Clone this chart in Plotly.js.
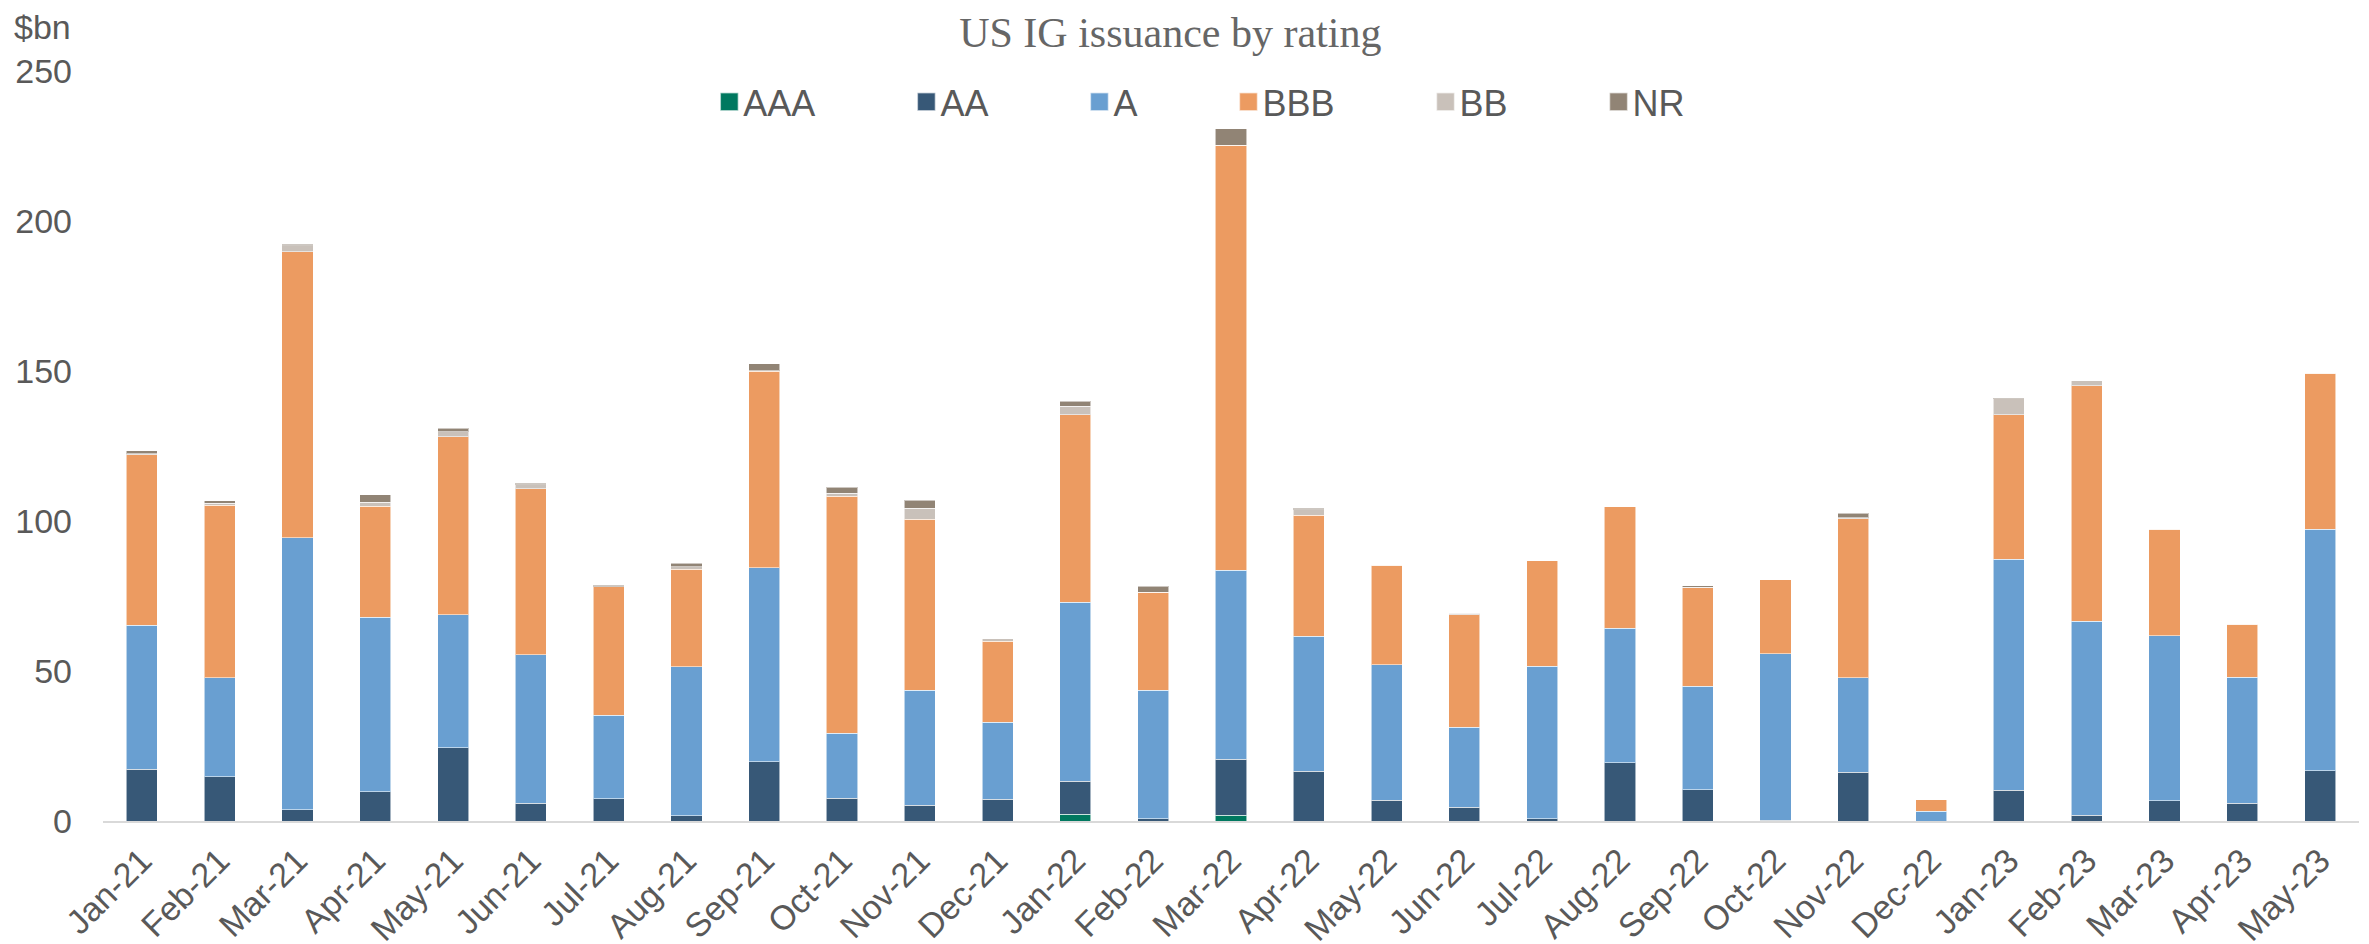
<!DOCTYPE html>
<html>
<head>
<meta charset="utf-8">
<script src="https://cdn.plot.ly/plotly-3.0.1.min.js"></script>
<style>
  html, body { margin: 0; padding: 0; background: #ffffff; }
  #chart { width: 2369px; height: 944px; }
</style>
</head>
<body>
<div id="chart"></div>
<script>
// ---- Data (US$ bn) ----
const months = ["Jan-21","Feb-21","Mar-21","Apr-21","May-21","Jun-21","Jul-21","Aug-21","Sep-21","Oct-21","Nov-21","Dec-21",
                "Jan-22","Feb-22","Mar-22","Apr-22","May-22","Jun-22","Jul-22","Aug-22","Sep-22","Oct-22","Nov-22","Dec-22",
                "Jan-23","Feb-23","Mar-23","Apr-23","May-23"];

const AAA = [0,0,0,0,0,0,0,0,0,0,0,0, 2.3,0,2.0,0,0,0,0,0,0,0,0,0, 0,0,0,0,0];
const AA  = [17.3,14.7,3.8,9.7,24.5,6.0,7.4,1.7,19.8,7.6,5.2,7.2, 11.0,0.8,18.6,16.6,7.0,4.6,0.8,19.4,10.4,0.3,16.2,0, 10.2,2.0,6.8,6.0,16.8];
const A   = [48.0,33.1,90.6,58.2,44.2,49.5,27.9,49.8,64.6,21.6,38.4,25.7, 59.7,42.8,63.0,45.0,45.1,26.7,50.8,44.9,34.6,55.4,31.6,3.2, 77.0,64.6,54.9,41.9,80.5];
const BBB = [56.8,57.5,95.4,37.1,59.4,55.3,42.8,32.5,65.6,79.0,57.0,27.0, 62.4,32.7,141.6,40.4,33.1,37.5,35.1,40.4,32.8,24.7,53.0,3.9, 48.2,78.5,35.5,17.7,51.9];
const BB  = [0.3,0.6,2.0,1.3,1.7,1.3,0,0.7,0.1,1.0,3.6,0.9, 2.9,0,0,1.8,0,0.4,0,0,0.2,0,0.3,0, 5.3,1.6,0,0,0];
const NR  = [1.0,0.8,0.4,2.4,1.2,0.5,0.5,1.2,2.4,2.1,2.8,0, 1.7,2.0,5.5,0.4,0,0,0,0,0.5,0,1.5,0, 0.3,0,0,0,0];

const seriesNames  = ["AAA","AA","A","BBB","BB","NR"];
const seriesValues = [AAA, AA, A, BBB, BB, NR];
const seriesColors = ["#00785F","#375877","#699FD1","#EC9B61","#C9C1BA","#918475"];

const yTicks = [0, 50, 100, 150, 200, 250];

// ---- Chart ----
const FONT = '"Liberation Sans", Arial, sans-serif';
const GREY = '#595959';
const PAD = '\u00A0'.repeat(8);   // legend spacing like the original (text width + constant gap)

const traces = seriesNames.map((name, i) => ({
  type: 'bar',
  name: name + PAD,
  x: months,
  y: seriesValues[i],
  marker: { color: seriesColors[i], line: { color: 'rgba(255,255,255,0.55)', width: 1 } },
  hoverinfo: 'x+y'
}));

const layout = {
  width: 2369,
  height: 944,
  paper_bgcolor: '#ffffff',
  plot_bgcolor: '#ffffff',
  barmode: 'stack',
  bargap: 0.6,
  margin: { l: 103, r: 10, t: 71, b: 123, pad: 0 },
  font: { family: FONT, color: GREY, size: 34 },
  title: {
    text: 'US IG issuance by rating',
    font: { family: '"Liberation Serif", "Times New Roman", serif', size: 42, color: '#666666' },
    x: 0.494, xanchor: 'center', xref: 'container',
    y: 0.966, yanchor: 'middle', yref: 'container'
  },
  showlegend: true,
  legend: {
    orientation: 'h',
    traceorder: 'normal',
    x: 0.2661, xanchor: 'left',
    y: 0.999, yanchor: 'top',
    font: { family: FONT, size: 36, color: GREY },
    bgcolor: 'rgba(0,0,0,0)',
    itemclick: false
  },
  xaxis: {
    type: 'category',
    tickangle: -45,
    showgrid: false,
    zeroline: false,
    showline: true,
    linecolor: '#D9D9D9',
    linewidth: 2,
    ticks: '',
    tickfont: { family: FONT, size: 34, color: GREY },
    ticklabelstandoff: 4,
    fixedrange: true
  },
  yaxis: {
    range: [0, 250],
    tickvals: yTicks,
    ticktext: yTicks.map(String),
    showgrid: false,
    zeroline: false,
    showline: false,
    ticks: '',
    tickfont: { family: FONT, size: 34, color: GREY },
    ticklabelstandoff: 30,
    fixedrange: true
  },
  annotations: [{
    text: '$bn',
    xref: 'paper', yref: 'paper',
    x: -0.0403, xanchor: 'left',
    y: 1.058, yanchor: 'middle',
    showarrow: false,
    font: { family: FONT, size: 34, color: GREY }
  }]
};

Plotly.newPlot('chart', traces, layout, { displayModeBar: false, staticPlot: true }).then(() => {
  // enlarge legend swatches (18px squares as in the reference) and tuck them next to the text
  document.querySelectorAll('.legendpoints path').forEach(p => {
    const t = p.getAttribute('transform') || '';
    p.setAttribute('transform', (t + ' translate(6,0) scale(1.5)').trim());
  });
});
</script>
</body>
</html>
